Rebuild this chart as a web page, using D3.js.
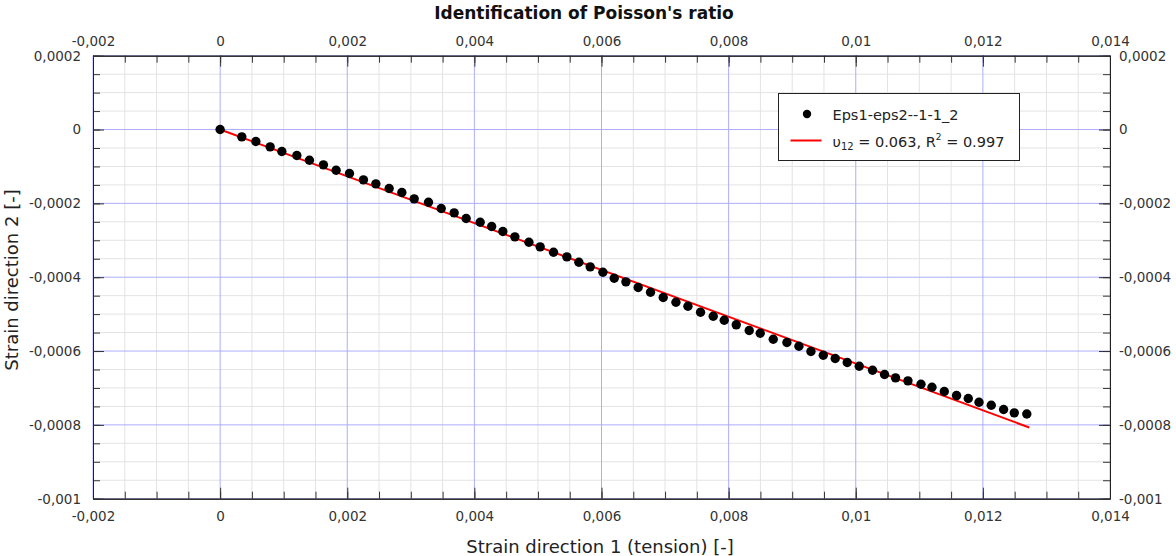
<!DOCTYPE html>
<html>
<head>
<meta charset="utf-8">
<script src="https://cdn.jsdelivr.net/npm/d3@7"></script>
<style>
    body { margin: 0; background: #fff; }
    text { font-family: "DejaVu Sans", sans-serif; }
</style>
</head>
<body>
<svg id="chart"></svg>
<script>
// tick labels (major)
const xTicks = [-0.002, 0, 0.002, 0.004, 0.006, 0.008, 0.01, 0.012, 0.014];
const yTicks = [-0.001, -0.0008, -0.0006, -0.0004, -0.0002, 0, 0.0002];

const eps1 = [0, 0.000341, 0.000562, 0.000787, 0.000971, 0.001207, 0.001405, 0.001625, 0.001825, 0.002035,
    0.002255, 0.00245, 0.002659, 0.002859, 0.003053, 0.003278, 0.003478, 0.003682, 0.003871, 0.004091,
    0.004272, 0.004448, 0.004637, 0.004858, 0.005035, 0.005245, 0.005455, 0.005644, 0.005822, 0.006022,
    0.0062, 0.006384, 0.006577, 0.006771, 0.006971, 0.007171, 0.00736, 0.007558, 0.007758, 0.007931,
    0.00812, 0.008324, 0.008497, 0.008702, 0.008917, 0.009106, 0.009295, 0.009489, 0.009677, 0.009866,
    0.010055, 0.010264, 0.010453, 0.010626, 0.010821, 0.011026, 0.011199, 0.011393, 0.011586, 0.01177,
    0.011939, 0.012132, 0.012326, 0.012494, 0.012691];
const eps2 = [0, -0.0000198, -0.0000325, -0.0000469, -0.0000596, -0.0000704, -0.0000832, -0.0000956, -0.0001103, -0.0001192,
    -0.0001363, -0.0001471, -0.0001598, -0.0001707, -0.0001877, -0.0001969, -0.000214, -0.0002257, -0.0002411, -0.0002511,
    -0.0002628, -0.0002763, -0.0002907, -0.0003053, -0.0003178, -0.0003324, -0.0003449, -0.0003595, -0.0003719, -0.0003866,
    -0.0004028, -0.0004126, -0.000428, -0.0004407, -0.0004551, -0.0004678, -0.0004787, -0.0004949, -0.0005058, -0.0005166,
    -0.000529, -0.0005445, -0.0005518, -0.0005681, -0.000577, -0.000587, -0.0006014, -0.0006114, -0.0006203, -0.0006312,
    -0.0006412, -0.000652, -0.0006637, -0.0006726, -0.0006808, -0.00069, -0.0006981, -0.0007097, -0.0007206, -0.0007287,
    -0.0007387, -0.0007469, -0.0007585, -0.0007675, -0.0007707];

// linear fit end points
const fitX = [0, 0.01273];
const fitY = [0, -0.000807];

const seriesName = "Eps1-eps2--1-1_2";
const nuText = "0.063";
const r2Text = "0.997";

const W = 1176, H = 556;
const margin = { top: 55.7, right: 66, bottom: 57.3, left: 93 };
const width = W - margin.left - margin.right;
const height = H - margin.top - margin.bottom;

const svg = d3.select("#chart").attr("width", W).attr("height", H);
const g = svg.append("g").attr("transform", `translate(${margin.left},${margin.top})`);

const x = d3.scaleLinear().domain([-0.002, 0.014]).range([0, width]);
const y = d3.scaleLinear().domain([-0.001, 0.0002]).range([height, 0]);

const loc = d3.formatLocale({ decimal: ",", thousands: ".", grouping: [3], currency: ["", ""], minus: "-" });
const fmt = loc.format("~g");

const xMinor = x.ticks(32);
const yMinor = y.ticks(24);
const isMajor = (v, majors) => majors.some(m => Math.abs(m - v) < 1e-9);

// minor grid (skip where a major line goes)
g.append("g").selectAll("line").data(xMinor.filter(d => !isMajor(d, xTicks))).join("line")
    .attr("x1", d => x(d)).attr("x2", d => x(d)).attr("y1", 0).attr("y2", height)
    .attr("stroke", "#e3e3e3");
g.append("g").selectAll("line").data(yMinor.filter(d => !isMajor(d, yTicks))).join("line")
    .attr("y1", d => y(d)).attr("y2", d => y(d)).attr("x1", 0).attr("x2", width)
    .attr("stroke", "#e3e3e3");

// major grid
g.append("g").selectAll("line").data(xTicks).join("line")
    .attr("x1", d => x(d)).attr("x2", d => x(d)).attr("y1", 0).attr("y2", height)
    .attr("stroke", "#adadff");
g.append("g").selectAll("line").data(yTicks).join("line")
    .attr("y1", d => y(d)).attr("y2", d => y(d)).attr("x1", 0).attr("x2", width)
    .attr("stroke", "#adadff");

// axes, ticks pointing inside
function styleAxis(sel) {
    sel.selectAll("text").attr("font-size", "13.5px").attr("fill", "#333")
        .attr("font-family", "DejaVu Sans, sans-serif");
    sel.selectAll("line").attr("stroke", "#333");
    sel.select(".domain").attr("stroke", "#222");
}

const axes = [
    [d3.axisBottom, x, xTicks, xMinor, `translate(0,${height})`, 13],
    [d3.axisTop, x, xTicks, xMinor, null, 10],
    [d3.axisLeft, y, yTicks, yMinor, null, 12],
    [d3.axisRight, y, yTicks, yMinor, `translate(${width},0)`, 9]
];
axes.forEach(([axisFn, sc, major, minor, tr, pad]) => {
    const minorG = g.append("g").attr("transform", tr)
        .call(axisFn(sc).tickValues(minor).tickSizeInner(-7).tickSizeOuter(0).tickFormat(""));
    styleAxis(minorG);
    const majorG = g.append("g").attr("transform", tr)
        .call(axisFn(sc).tickValues(major).tickSizeInner(-11).tickSizeOuter(0).tickPadding(pad).tickFormat(fmt));
    styleAxis(majorG);
});

// fit line
g.append("line")
    .attr("x1", x(fitX[0])).attr("y1", y(fitY[0]))
    .attr("x2", x(fitX[1])).attr("y2", y(fitY[1]))
    .attr("stroke", "red").attr("stroke-width", 2);

// data points
g.append("g").selectAll("circle").data(eps1).join("circle")
    .attr("cx", d => x(d))
    .attr("cy", (d, i) => y(eps2[i]))
    .attr("r", 4.7)
    .attr("fill", "black");

// legend
const lg = svg.append("g").attr("transform", "translate(778.5,93.5)");
lg.append("rect").attr("width", 241).attr("height", 67)
    .attr("fill", "white").attr("stroke", "#222");
lg.append("circle").attr("cx", 28.5).attr("cy", 20.5).attr("r", 4.2).attr("fill", "black");
lg.append("text").attr("x", 54).attr("y", 26).attr("font-size", "14.5px").attr("fill", "#222")
    .text(seriesName);
lg.append("line").attr("x1", 12).attr("x2", 43).attr("y1", 47).attr("y2", 47)
    .attr("stroke", "red").attr("stroke-width", 2);
const lt = lg.append("text").attr("x", 54).attr("y", 53).attr("font-size", "14.5px").attr("fill", "#222");
lt.append("tspan").text("\u03c5");
lt.append("tspan").attr("font-size", "10px").attr("dy", 3).text("12");
lt.append("tspan").attr("dy", -3).text(` = ${nuText}, R`);
lt.append("tspan").attr("font-size", "9px").attr("dy", -7).text("2");
lt.append("tspan").attr("dy", 7).text(` = ${r2Text}`);

// titles
svg.append("text").attr("x", 584).attr("y", 19).attr("text-anchor", "middle")
    .attr("font-size", "17px").attr("font-weight", "bold").attr("fill", "#111")
    .text("Identification of Poisson's ratio");
svg.append("text").attr("x", 600).attr("y", 553).attr("text-anchor", "middle")
    .attr("font-size", "18px").attr("fill", "#222")
    .text("Strain direction 1 (tension) [-]");
svg.append("text").attr("transform", "translate(17.5,280) rotate(-90)").attr("text-anchor", "middle")
    .attr("font-size", "18px").attr("fill", "#222")
    .text("Strain direction 2 [-]");
</script>
</body>
</html>
